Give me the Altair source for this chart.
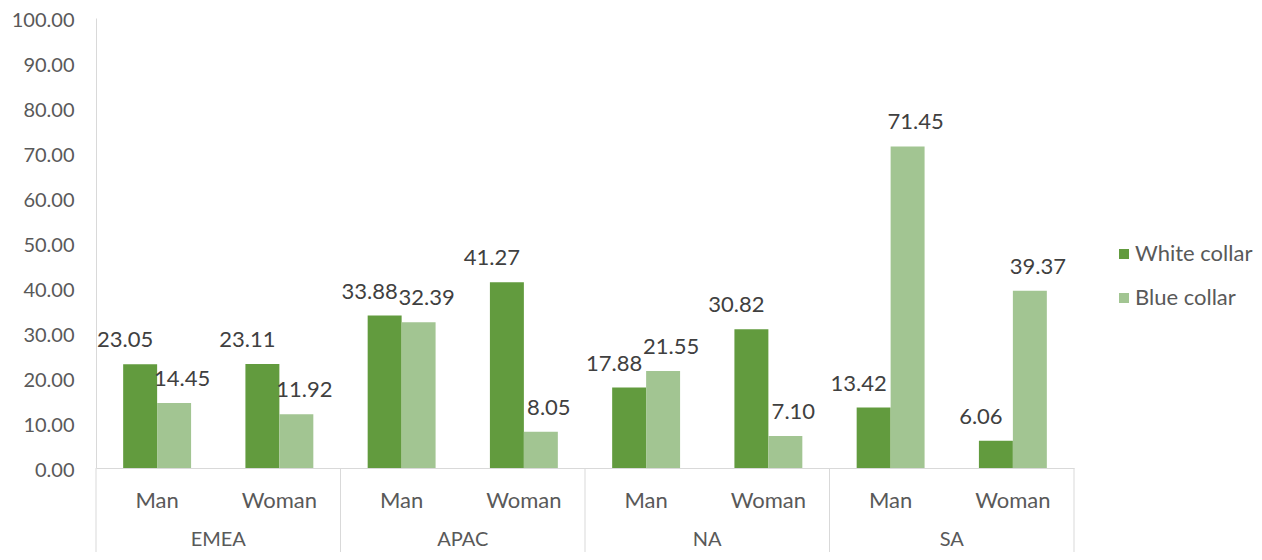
import altair as alt
import pandas as pd

regions = ["EMEA", "APAC", "NA", "SA"]
genders = ["Man", "Woman"]
series = ["White collar", "Blue collar"]
white = [23.05, 23.11, 33.88, 41.27, 17.88, 30.82, 13.42, 6.06]
blue = [14.45, 11.92, 32.39, 8.05, 21.55, 7.10, 71.45, 39.37]
y_ticks = [0, 10, 20, 30, 40, 50, 60, 70, 80, 90, 100]
colors = ["#629B3E", "#A2C592"]

keys = [f"{r}|{g}" for r in regions for g in genders]
rows = []
for i, k in enumerate(keys):
    r, g = k.split("|")
    rows.append(dict(key=k, region=r, gender=g, series=series[0], value=white[i]))
    rows.append(dict(key=k, region=r, gender=g, series=series[1], value=blue[i]))
df = pd.DataFrame(rows)

df_g = pd.DataFrame({"key": keys, "gender": [k.split("|")[1] for k in keys]})
df_r = pd.DataFrame({"key": [f"{r}|Man" for r in regions], "region": regions})
df_end = pd.DataFrame({"key": [keys[-1]]})

W, H = 978, 450
FONT = "Lato"
FS = 22
AX = "#595959"
LINE = "#D9D9D9"

xscale = alt.Scale(domain=keys, paddingInner=0, paddingOuter=0)
yscale = alt.Scale(domain=[0, 100])
x_axis = alt.Axis(labels=False, ticks=False, title=None, grid=False,
                  domainColor=LINE, domainWidth=1)
y_axis = alt.Axis(values=y_ticks, format=".2f", grid=False, ticks=False,
                  tickSize=0, labelPadding=22, domainColor=LINE, domainWidth=1,
                  labelFont=FONT, labelFontSize=20, labelColor=AX, title=None,
                  labelOffset=2)
X = alt.X("key:N", scale=xscale, sort=keys, axis=x_axis)
Y = alt.Y("value:Q", scale=yscale, axis=y_axis)
xoff = alt.XOffset("series:N", sort=series,
                   scale=alt.Scale(domain=series, paddingInner=0, paddingOuter=0.8))

base = alt.Chart(df)

bars = base.mark_bar().encode(
    x=X,
    xOffset=xoff,
    y=Y,
    color=alt.Color("series:N", sort=series,
                    scale=alt.Scale(domain=series, range=colors),
                    legend=alt.Legend(title=None, orient="none", legendX=1017,
                                      legendY=225, symbolType="square",
                                      symbolSize=100, symbolStrokeWidth=0,
                                      labelFont=FONT, labelFontSize=FS,
                                      labelColor=AX, rowPadding=22,
                                      labelOffset=0, labelLimit=400)),
)


def value_labels(name, dx):
    return base.transform_filter(alt.datum.series == name).mark_text(
        dx=dx, dy=-24, fontSize=FS, font=FONT, color="#404040", baseline="middle"
    ).encode(
        x=X,
        xOffset=xoff,
        y=Y,
        text=alt.Text("value:Q", format=".2f"),
    )


lab_w = value_labels(series[0], -15)
lab_b = value_labels(series[1], 8)

gender_text = alt.Chart(df_g).mark_text(
    fontSize=FS, font=FONT, color=AX, baseline="middle"
).encode(
    x=X,
    y=alt.value(483),
    text="gender:N",
)

region_text = alt.Chart(df_r).mark_text(
    fontSize=20, font=FONT, color=AX, baseline="middle"
).encode(
    x=alt.X("key:N", scale=xscale, sort=keys, axis=x_axis, bandPosition=1),
    y=alt.value(522),
    text="region:N",
)

dividers = alt.Chart(df_r).mark_rule(color=LINE, strokeWidth=1).encode(
    x=alt.X("key:N", scale=xscale, sort=keys, axis=x_axis, bandPosition=0),
    y=alt.value(H),
    y2=alt.value(H + 120),
)

end_divider = alt.Chart(df_end).mark_rule(color=LINE, strokeWidth=1).encode(
    x=alt.X("key:N", scale=xscale, sort=keys, axis=x_axis, bandPosition=1),
    y=alt.value(H),
    y2=alt.value(H + 120),
)

chart = alt.layer(
    bars, lab_w, lab_b, gender_text, region_text, dividers, end_divider
).properties(
    width=W, height=H, autosize="none", background="white",
    padding={"left": 88, "top": 10, "right": 180, "bottom": 84},
).configure_view(stroke=None)

chart.save("out.html", embed_options={"renderer": "svg", "actions": False})
